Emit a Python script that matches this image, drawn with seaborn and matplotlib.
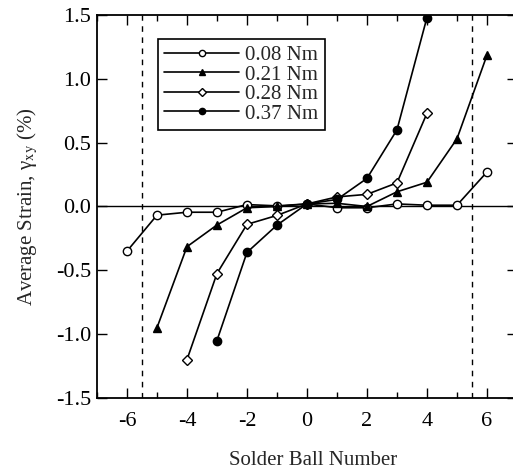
import matplotlib
matplotlib.use("Agg")
import matplotlib.pyplot as plt
from matplotlib.ticker import MultipleLocator, FormatStrFormatter
import seaborn as sns
import pandas as pd

sns.set_theme(style="ticks")
plt.rcParams["font.family"] = ["Liberation Serif", "DejaVu Serif"]
plt.rcParams["mathtext.fontset"] = "stix"
plt.rcParams["axes.unicode_minus"] = False

# Average shear strain per solder ball for each applied torque
balls_008 = [-6, -5, -4, -3, -2, -1, 0, 1, 2, 3, 4, 5, 6]
strain_008 = [-0.35, -0.068, -0.045, -0.045, 0.015, 0.005, 0.02, -0.01, -0.01, 0.02, 0.01, 0.01, 0.27]

balls_021 = [-5, -4, -3, -2, -1, 0, 1, 2, 3, 4, 5, 6]
strain_021 = [-0.95, -0.315, -0.145, -0.01, 0.0, 0.02, 0.025, 0.0, 0.115, 0.19, 0.53, 1.185]

balls_028 = [-4, -3, -2, -1, 0, 1, 2, 3, 4]
strain_028 = [-1.20, -0.525, -0.14, -0.07, 0.02, 0.075, 0.095, 0.185, 0.73]

balls_037 = [-3, -2, -1, 0, 1, 2, 3, 4]
strain_037 = [-1.05, -0.36, -0.146, 0.02, 0.055, 0.22, 0.60, 1.48]

torque_labels = ["0.08 Nm", "0.21 Nm", "0.28 Nm", "0.37 Nm"]
pad_edge = [-5.5, 5.5]

series = [
    (balls_008, strain_008, "o", "white", 6.0),
    (balls_021, strain_021, "^", "black", 6.0),
    (balls_028, strain_028, "D", "white", 5.5),
    (balls_037, strain_037, "o", "black", 6.0),
]

fig = plt.figure(figsize=(5.13, 4.73), dpi=100)
ax = fig.add_axes([0.189, 0.1586, 0.8187, 0.8097])

for (xs, ys, mk, face, ms), lab in zip(series, torque_labels):
    df = pd.DataFrame({"ball": xs, "strain": ys})
    sns.lineplot(data=df, x="ball", y="strain", ax=ax, color="black",
                 marker=mk, markerfacecolor=face, markeredgecolor="black",
                 markeredgewidth=1.0, markersize=ms, linewidth=1.2,
                 label=lab, zorder=3)

ax.axhline(0, color="black", linewidth=1.0, zorder=2)
for xv in pad_edge:
    ax.axvline(xv, color="black", linewidth=1.0, linestyle=(0, (4, 4)), zorder=1)

ax.set_xlim(-7, 7)
ax.set_ylim(-1.5, 1.5)
ax.xaxis.set_major_locator(MultipleLocator(2))
ax.xaxis.set_minor_locator(MultipleLocator(1))
ax.yaxis.set_major_locator(MultipleLocator(0.5))
ax.yaxis.set_major_formatter(FormatStrFormatter("%.1f"))

ax.tick_params(which="both", direction="in", top=True, right=True,
               colors="black", labelsize=16)
ax.tick_params(which="major", length=7, width=1.0)
ax.tick_params(axis="x", which="major", pad=10)
ax.tick_params(axis="y", which="major", pad=4)
ax.tick_params(axis="x", which="minor", length=4.5, width=1.0)
ax.tick_params(axis="y", which="minor", length=0)

for side in ["left", "bottom", "top", "right"]:
    ax.spines[side].set_color("black")
    ax.spines[side].set_linewidth(1.3)

ax.set_xlabel("Solder Ball Number", fontsize=15, va="center")
ax.set_ylabel(r"Average Strain, γ$_{\rm xy}$ (%)", fontsize=15, va="center")
ax.xaxis.set_label_coords(0.514, -0.162)
ax.yaxis.set_label_coords(-0.165, 0.5)

leg = ax.legend(loc="upper left", bbox_to_anchor=(0.145, 0.937),
                borderaxespad=0, fontsize=15, frameon=True, fancybox=False,
                edgecolor="black", framealpha=1, handlelength=3.6,
                handletextpad=0.3, labelspacing=0.0, borderpad=0.3,
                markerscale=0.75)
leg.get_frame().set_linewidth(1.2)

fig.savefig("out.png", dpi=100)
